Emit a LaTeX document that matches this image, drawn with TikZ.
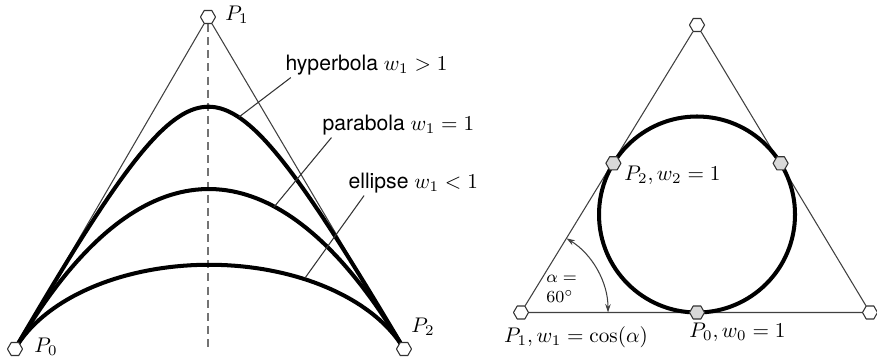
\documentclass[tikz,border=0pt]{standalone}
\usepackage{fontspec}
\setsansfont{TeX Gyre Heros}
\usetikzlibrary{shapes.geometric,backgrounds,arrows.meta}
\tikzset{
  hexa/.style={regular polygon, regular polygon sides=6, draw=black!80, fill=white,
    line width=0.5pt, inner sep=0pt, minimum size=0.25cm},
  hexg/.style={hexa, fill=black!15},
  thinline/.style={black!75, line width=0.5pt},
  conic/.style={line width=1.9pt, line cap=round},
  leader/.style={black!80, line width=0.5pt},
  lab/.style={inner sep=1pt, font=\sffamily}
}
\begin{document}
\begin{tikzpicture}[
    x=0.0166cm, y=0.0166cm,
    line join=round,
    >=Stealth
  ]
  \useasboundingbox (0,0) rectangle (877,358);

  % Linke Figur: Kontrollpunkte
  \node[hexa] (P0) at (15,9) {};
  \node[hexa] (P1) at (208,341) {};
  \node[hexa] (P2) at (404,9) {};
  \coordinate (base) at (208,8);

  % Namen der Punkte
  \node (tP0) at (46,11) {$P_0$};
  \node (tP1) at (237,343) {$P_1$};
  \node (tP2) at (423,31) {$P_2$};

  % Kontrollpolygon und Symmetrieachse
  \begin{scope}[on background layer]
    \draw[thinline] (P0) -- (P1) -- (P2);
    \draw[thinline, black!55, dash pattern=on 3.8pt off 2.4pt] (P1) -- (base);
    % rationale Bezierkurven mit Gewicht w
    \foreach \w in {2.7,0.93,0.34}
    {
      \draw[conic] plot[domain=0:1, samples=80, variable=\t]
        ({(15*(1-\t)^2+416*\w*\t*(1-\t)+404*\t^2)/((1-\t)^2+2*\w*\t*(1-\t)+\t^2)},
         {(9*(1-\t)^2+682*\w*\t*(1-\t)+9*\t^2)/((1-\t)^2+2*\w*\t*(1-\t)+\t^2)});
    }
  \end{scope}

  % Beschriftung der Kurven
  \node[lab, anchor=west] (lhyp) at (283,293) {hyperbola $w_1>1$};
  \node[lab, anchor=west] (lpar) at (320,233) {parabola $w_1=1$};
  \node[lab, anchor=west] (lell) at (346,175) {ellipse $w_1<1$};
  \coordinate (hyp) at (239,241);
  \coordinate (par) at (274,151);
  \coordinate (ell) at (305,80);
  \draw[leader] (hyp) -- ([xshift=0.13cm]lhyp.south west);
  \draw[leader] (par) -- ([xshift=0.19cm]lpar.south west);
  \draw[leader] (ell) -- ([xshift=0.3cm]lell.south west);

  % Rechte Figur: Dreieck mit Inkreis
  \node[hexa] (Ktop) at (697,333) {};
  \node[hexa] (K1) at (521,45.5) {};
  \node[hexa] (Kright) at (870,45.5) {};
  \node[hexg] (K0) at (697,45.5) {};
  \node[hexg] (K2) at (613.4,194.7) {};
  \node[hexg] (Kr) at (780.6,194.7) {};
  \coordinate (O) at (697,143.5);

  \begin{scope}[on background layer]
    \draw[thinline] (Ktop) -- (K1) -- (Kright) -- (Ktop);
    \draw[conic] (O) circle[radius=98];
  \end{scope}

  % Winkel alpha
  \draw[thinline, <->, >={Stealth[length=4pt, width=2.6pt]}]
    ([shift={(58.5:87)}]K1.center) arc[start angle=58.5, end angle=0, radius=87];
  \node[font=\footnotesize, align=left, anchor=west, inner sep=0pt] (alab) at (546,69)
    {$\alpha=$\\$60^{\circ}$};

  % Namen und Gewichte
  \node[anchor=west] (tK2) at (617,183) {$P_2, w_2=1$};
  \node (tK1) at (576,21) {$P_1, w_1=\cos(\alpha)$};
  \node[anchor=west] (tK0) at (682,26) {$P_0, w_0=1$};

\end{tikzpicture}
\end{document}
